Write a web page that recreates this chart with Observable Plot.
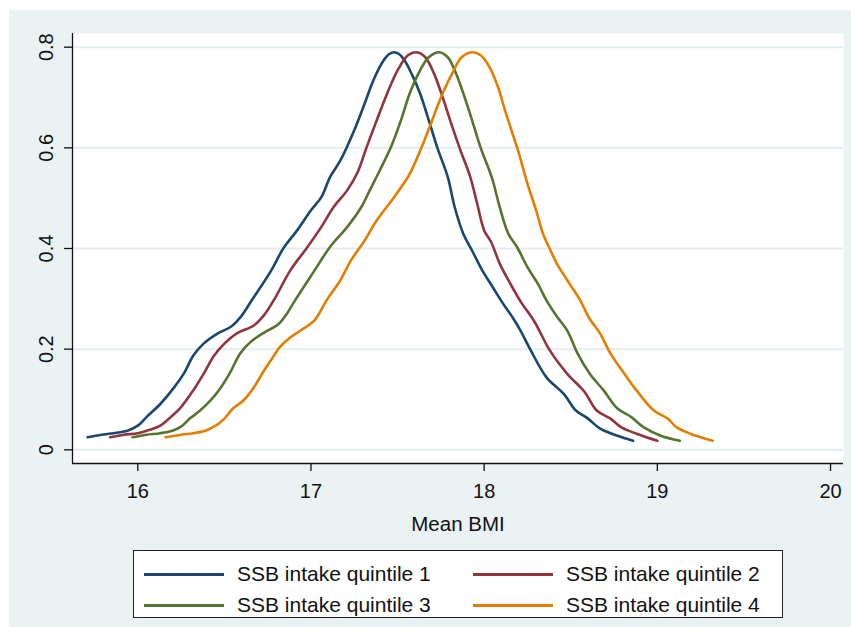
<!DOCTYPE html>
<html>
<head>
<meta charset="utf-8">
<script src="https://cdn.jsdelivr.net/npm/d3@7"></script>
<script src="https://cdn.jsdelivr.net/npm/@observablehq/plot@0.6"></script>
<style>
  html, body { margin: 0; padding: 0; background: #ffffff; }
  body { width: 851px; height: 627px; position: relative; overflow: hidden;
         font-family: "Liberation Sans", Arial, Helvetica, sans-serif; }
  #bg { position: absolute; left: 9px; top: 10px; width: 842px; height: 617px; background: #eaf2f3; }
  #chart { position: absolute; left: 0; top: 0; }
  #legend { position: absolute; left: 124px; top: 540px; width: 650px; height: 68px;
            background: #ffffff; border: 1px solid #222; box-sizing: border-box; }
  .item { position: absolute; height: 24px; display: flex; align-items: center; }
  .sw { width: 80px; height: 3px; margin-right: 13px; }
  .lab { font-size: 21px; color: #111; white-space: nowrap; }
</style>
</head>
<body>
<div id="bg">
  <div id="chart"></div>
  <div id="legend"></div>
</div>
<script>
const xTicks = [16, 17, 18, 19, 20];
const yTicks = [0, 0.2, 0.4, 0.6, 0.8];
const yTickLabels = ["0", "0.2", "0.4", "0.6", "0.8"];
const xTitle = "Mean BMI";
const seriesNames = ["SSB intake quintile 1", "SSB intake quintile 2", "SSB intake quintile 3", "SSB intake quintile 4"];
const seriesColors = ["#1a476f", "#90353b", "#55752f", "#e37e00"];

const q1x = [15.71,15.79,15.86,15.94,16.00,16.05,16.13,16.21,16.27,16.32,16.38,16.46,16.54,16.59,16.66,16.77,16.84,16.92,17.00,17.06,17.11,17.17,17.25,17.31,17.36,17.42,17.45,17.48,17.51,17.54,17.58,17.63,17.68,17.73,17.79,17.83,17.88,17.93,17.99,18.05,18.11,18.17,18.21,18.27,18.36,18.46,18.53,18.60,18.67,18.77,18.86];
const q1y = [0.025,0.030,0.033,0.038,0.048,0.065,0.091,0.124,0.154,0.187,0.211,0.231,0.245,0.262,0.298,0.356,0.400,0.436,0.476,0.502,0.542,0.575,0.635,0.688,0.734,0.774,0.786,0.790,0.786,0.774,0.748,0.708,0.655,0.600,0.542,0.482,0.429,0.396,0.356,0.323,0.290,0.260,0.237,0.197,0.144,0.111,0.078,0.062,0.042,0.028,0.018];

const q2x = [15.84,15.92,16.00,16.07,16.13,16.19,16.25,16.32,16.38,16.44,16.50,16.57,16.67,16.73,16.79,16.88,16.98,17.06,17.13,17.21,17.27,17.32,17.38,17.44,17.50,17.56,17.61,17.66,17.71,17.76,17.81,17.86,17.92,17.96,18.00,18.04,18.09,18.14,18.21,18.29,18.38,18.48,18.58,18.65,18.73,18.79,18.88,19.00];
const q2y = [0.025,0.030,0.033,0.040,0.048,0.065,0.085,0.118,0.151,0.187,0.211,0.231,0.247,0.268,0.300,0.356,0.403,0.443,0.482,0.516,0.552,0.600,0.655,0.708,0.754,0.784,0.790,0.780,0.748,0.701,0.648,0.598,0.542,0.489,0.436,0.413,0.370,0.337,0.295,0.255,0.197,0.151,0.115,0.078,0.062,0.045,0.032,0.018];

const q3x = [15.97,16.05,16.13,16.20,16.25,16.30,16.36,16.42,16.48,16.54,16.59,16.65,16.73,16.81,16.86,16.91,17.02,17.11,17.21,17.29,17.34,17.40,17.46,17.52,17.57,17.63,17.68,17.74,17.79,17.83,17.88,17.93,17.98,18.03,18.05,18.09,18.14,18.19,18.25,18.31,18.36,18.42,18.48,18.54,18.61,18.69,18.77,18.85,18.92,19.02,19.13];
const q3y = [0.025,0.030,0.033,0.038,0.046,0.062,0.078,0.098,0.124,0.158,0.191,0.214,0.233,0.249,0.270,0.298,0.356,0.403,0.443,0.482,0.516,0.557,0.600,0.655,0.708,0.754,0.780,0.790,0.780,0.754,0.708,0.655,0.600,0.555,0.535,0.482,0.429,0.403,0.363,0.330,0.297,0.265,0.237,0.191,0.151,0.118,0.082,0.065,0.045,0.028,0.018];

const q4x = [16.16,16.25,16.32,16.39,16.45,16.50,16.55,16.61,16.67,16.73,16.78,16.82,16.88,16.94,17.02,17.09,17.17,17.23,17.31,17.38,17.48,17.56,17.59,17.64,17.70,17.76,17.82,17.87,17.93,17.98,18.03,18.08,18.12,18.17,18.20,18.25,18.30,18.34,18.37,18.42,18.48,18.55,18.61,18.67,18.73,18.81,18.88,18.98,19.06,19.11,19.19,19.32];
const q4y = [0.025,0.030,0.033,0.038,0.048,0.062,0.082,0.098,0.124,0.158,0.184,0.204,0.223,0.237,0.257,0.297,0.337,0.376,0.416,0.456,0.502,0.542,0.562,0.602,0.655,0.708,0.751,0.780,0.790,0.784,0.761,0.721,0.675,0.622,0.590,0.529,0.476,0.429,0.406,0.370,0.337,0.300,0.260,0.231,0.191,0.151,0.118,0.078,0.062,0.045,0.032,0.018];

const seriesX = [q1x, q2x, q3x, q4x];
const seriesY = [q1y, q2y, q3y, q4y];
const data = [];
seriesNames.forEach((name, i) => {
  seriesX[i].forEach((xv, j) => data.push({series: name, x: xv, y: seriesY[i][j]}));
});

const xDomain = [15.623, 20.075];
const yDomain = [-0.0272, 0.8272];

const chart = Plot.plot({
  width: 842,
  height: 530,
  marginLeft: 63,
  marginRight: 8,
  marginTop: 23,
  marginBottom: 77,
  style: {background: "#eaf2f3", fontFamily: "'Liberation Sans', Arial, Helvetica, sans-serif", color: "#111"},
  x: {domain: xDomain, label: null},
  y: {domain: yDomain, label: null},
  color: {domain: seriesNames, range: seriesColors},
  marks: [
    Plot.frame({fill: "#ffffff", stroke: "none"}),
    Plot.ruleY(yTicks, {stroke: "#e3ecee", strokeWidth: 2}),
    Plot.ruleX([xDomain[0]], {stroke: "#111", strokeWidth: 1.3}),
    Plot.ruleY([yDomain[0]], {stroke: "#111", strokeWidth: 1.3}),
    Plot.axisX(xTicks, {tickSize: 8, tickPadding: 12, fontSize: 20, tickFormat: d => String(d), stroke: "#111", strokeWidth: 1.3, label: null}),
    Plot.axisY(yTicks, {tickSize: 8, tickFormat: () => "", stroke: "#111", strokeWidth: 1.3, label: null}),
    Plot.text(yTicks, {x: xDomain[0], y: d => d, text: (d, i) => yTickLabels[i], rotate: -90, dx: -26, textAnchor: "middle", lineAnchor: "middle", fontSize: 20, fill: "#111"}),
    Plot.text([xTitle], {frameAnchor: "bottom", dy: 60.5, lineAnchor: "middle", textAnchor: "middle", fontSize: 20.5, fill: "#111"}),
    Plot.line(data, {x: "x", y: "y", z: "series", stroke: "series", curve: "catmull-rom", strokeWidth: 2.6, strokeLinejoin: "round", strokeLinecap: "round"})
  ]
});
document.getElementById("chart").appendChild(chart);

const legend = document.getElementById("legend");
const colLeft = [10, 339];
const rowTop = [11, 42];
seriesNames.forEach((name, i) => {
  const it = document.createElement("div");
  it.className = "item";
  it.style.left = colLeft[i % 2] + "px";
  it.style.top = rowTop[Math.floor(i / 2)] + "px";
  const sw = document.createElement("div");
  sw.className = "sw";
  sw.style.background = seriesColors[i];
  const lab = document.createElement("span");
  lab.className = "lab";
  lab.textContent = name;
  it.appendChild(sw);
  it.appendChild(lab);
  legend.appendChild(it);
});
</script>
</body>
</html>
